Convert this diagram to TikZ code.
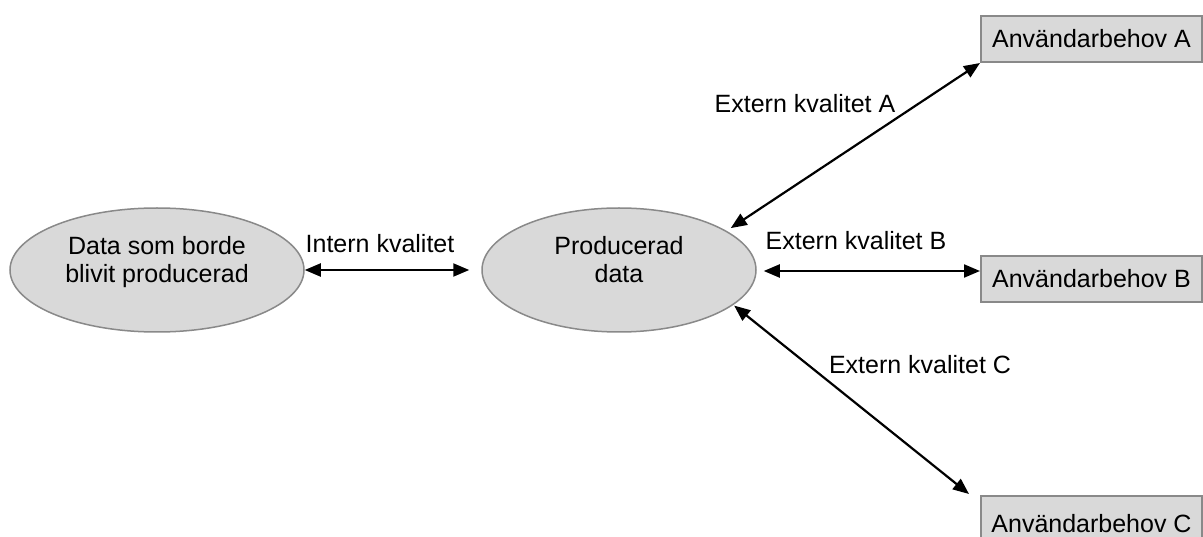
\documentclass[tikz,border=0pt]{standalone}
\usepackage{fontspec}
\setmainfont{Liberation Sans}
\usetikzlibrary{arrows.meta,shapes.geometric,calc}
\definecolor{boxfill}{HTML}{D9D9D9}
\definecolor{boxline}{HTML}{898989}
\newcommand{\ovaltext}[2]{\raisebox{7pt}[\height][\depth]{\begin{tabular}{@{}c@{}}#1\\#2\end{tabular}}}
\begin{document}
\begin{tikzpicture}[x=1pt,y=1pt,
  every node/.style={font=\fontsize{25}{28}\selectfont},
  oval/.style={ellipse,draw=boxline,fill=boxfill,line width=1.5pt,inner sep=0pt},
  needbox/.style={rectangle,draw=boxline,fill=boxfill,line width=2pt,inner sep=0pt,minimum width=221pt},
  link/.style={line width=2.2pt,{Triangle[length=16pt,width=13pt]}-{Triangle[length=16pt,width=13pt]}},
  lbl/.style={anchor=base,inner sep=0pt}]
\useasboundingbox (0,0) rectangle (1203,536);
\node[oval,minimum width=294pt,minimum height=124pt] (e1) at (157,266) {\ovaltext{Data som borde}{blivit producerad}};
\node[oval,minimum width=274pt,minimum height=124pt] (e2) at (619,266) {\ovaltext{Producerad}{data}};
\node[needbox,minimum height=46pt] (bA) at (1091.5,497) {Användarbehov A};
\node[needbox,minimum height=46pt] (bB) at (1091.5,257) {Användarbehov B};
\node[needbox,minimum height=56pt] (bC) at (1091.5,12) {Användarbehov C};
\draw[link,shorten >=12pt] (e1.east) -- (e2.west);
\draw[link,shorten <=7pt] ([yshift=-1pt]e2.east) -- ([yshift=-1pt]e2.east -| bB.west);
\draw[link,shorten >=5pt] (bA.south west) -- (e2.20);
\draw[link,shorten <=1pt] (e2.-17.5) -- ([xshift=-11pt,yshift=1pt]bC.north west);
\node[lbl] (li) at (380,283) {Intern kvalitet};
\node[lbl] (la) at (805,423) {Extern kvalitet A};
\node[lbl] (lb) at (856,286) {Extern kvalitet B};
\node[lbl] (lc) at (920,162) {Extern kvalitet C};
\end{tikzpicture}
\end{document}
